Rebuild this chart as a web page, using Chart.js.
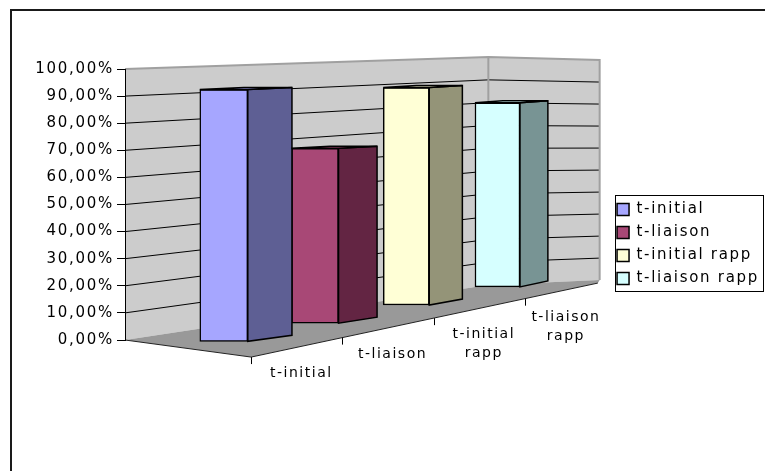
<!DOCTYPE html>
<html>
<head>
<meta charset="utf-8">
<script src="https://cdn.jsdelivr.net/npm/chart.js@4"></script>
<style>
html,body{margin:0;padding:0;background:#fff;}
#wrap{width:765px;height:471px;}
</style>
</head>
<body>
<div id="wrap"><canvas id="c" width="765" height="471"></canvas></div>
<script>
// ---- data ----
const categories = ['t-initial', 't-liaison', 't-initial rapp', 't-liaison rapp'];
const values = [95, 69, 90, 80];          // percent
const tickValues = [0, 10, 20, 30, 40, 50, 60, 70, 80, 90, 100];
const tickLabels = ['0,00%', '10,00%', '20,00%', '30,00%', '40,00%', '50,00%', '60,00%', '70,00%', '80,00%', '90,00%', '100,00%'];
const frontColors = ['#A6A6FF', '#A84876', '#FFFFD6', '#D6FFFF'];
const sideColors = ['#5E5F94', '#632543', '#949478', '#789494'];

// ---- 3D look (geometry of the fake perspective) ----
const FONT = "'DejaVu Sans', Verdana, sans-serif";
const geo = {
  backX: 2.9, rightX: 4.12,
  floorFrontX: 0.3, floorFrontY: -6.3,
  floorEndX: 4.1, floorEndY: 21.0,
  tickOffset: 0.3
};
// depth plane of series i, in units of the front value axis
const depth = i => ({ base: -0.5 + 6.7 * i, k: 0.978 - 0.043 * i });
const rangeFor = (base, k) => ({ min: -base / k, max: (100 - base) / k });

const hiddenAxis = r => Object.assign({ type: 'linear', display: false, bounds: 'data', position: 'left' }, r);

const scales = {
  x: {
    type: 'linear', position: 'top', min: -1.083, max: 4.223, offset: false,
    ticks: { display: false }, grid: { display: false, offset: false }, border: { display: false },
    afterFit(s) { s.height = 52; }
  },
  xb: {
    type: 'linear', position: 'bottom', min: 0, max: 1, offset: false,
    ticks: { display: false }, grid: { display: false }, border: { display: false },
    afterFit(s) { s.height = 131; }
  },
  y: {
    type: 'linear', position: 'left', min: 0, max: 100,
    afterBuildTicks(s) { s.ticks = tickValues.map(v => ({ value: v })); },
    ticks: {
      callback: v => tickLabels[tickValues.indexOf(v)],
      font: { family: FONT, size: 15 }, color: '#000', padding: 3
    },
    grid: { drawOnChartArea: false, drawTicks: true, tickLength: 8, color: '#000' },
    border: { display: true, color: '#000', width: 1 },
    afterFit(s) { s.width = 125; }
  },
  yBack: hiddenAxis(rangeFor(20.3, 0.841)),
  yRight: hiddenAxis(rangeFor(22.1, 0.812))
};
categories.forEach((c, i) => {
  const d = depth(i);
  scales['y' + i] = hiddenAxis(rangeFor(d.base, d.k));
});

const datasets = categories.map((name, i) => ({
  label: name,
  data: [{ x: i, y: values[i] }],
  xAxisID: 'x',
  yAxisID: 'y' + i,
  backgroundColor: frontColors[i],
  borderColor: '#000',
  borderWidth: 1.5,
  borderSkipped: false,
  barThickness: 48 - i,
  grouped: false,
  clip: false
}));

function poly(ctx, pts, fill, stroke, lw) {
  ctx.beginPath();
  ctx.moveTo(pts[0][0], pts[0][1]);
  for (let i = 1; i < pts.length; i++) ctx.lineTo(pts[i][0], pts[i][1]);
  ctx.closePath();
  if (fill) { ctx.fillStyle = fill; ctx.fill(); }
  if (stroke) { ctx.strokeStyle = stroke; ctx.lineWidth = lw; ctx.lineJoin = 'miter'; ctx.stroke(); }
}

const edgeM = xu => geo.floorFrontY + (xu - geo.floorFrontX) * (geo.floorEndY - geo.floorFrontY) / (geo.floorEndX - geo.floorFrontX);

const frame3d = {
  id: 'frame3d',
  beforeLayout(chart) { chart.ctx.letterSpacing = '1.7px'; },
  beforeDraw(chart) {
    const { ctx, chartArea: ca, scales: s } = chart;
    ctx.letterSpacing = '1.7px';
    ctx.save();
    ctx.fillStyle = '#fff';
    ctx.fillRect(0, 0, chart.width, chart.height);
    // outer frame
    ctx.strokeStyle = '#1a1a1a'; ctx.lineWidth = 2;
    ctx.beginPath();
    ctx.moveTo(11, chart.height + 2); ctx.lineTo(11, 10); ctx.lineTo(chart.width + 2, 10);
    ctx.stroke();

    const xF = ca.left, xB = s.x.getPixelForValue(geo.backX), xR = s.x.getPixelForValue(geo.rightX);
    const yF = v => s.y.getPixelForValue(v), yB = v => s.yBack.getPixelForValue(v), yR = v => s.yRight.getPixelForValue(v);
    // walls
    poly(ctx, [[xF, yF(0)], [xF, yF(100)], [xB, yB(100)], [xR, yR(100)], [xR, yR(0)], [xB, yB(0)]], '#CCCCCC');
    // gridlines
    ctx.strokeStyle = '#000'; ctx.lineWidth = 1;
    tickValues.forEach(v => {
      if (v === 0 || v === 100) return;
      ctx.beginPath();
      ctx.moveTo(xF, yF(v)); ctx.lineTo(xB, yB(v)); ctx.lineTo(xR, yR(v));
      ctx.stroke();
    });
    // wall outlines
    ctx.strokeStyle = '#A0A0A0'; ctx.lineWidth = 2;
    ctx.beginPath();
    ctx.moveTo(xF, yF(100)); ctx.lineTo(xB, yB(100)); ctx.lineTo(xR, yR(100)); ctx.lineTo(xR, yR(0));
    ctx.moveTo(xB, yB(100)); ctx.lineTo(xB, yB(0));
    ctx.stroke();
    // floor
    const xf0 = s.x.getPixelForValue(geo.floorFrontX), xfe = s.x.getPixelForValue(geo.floorEndX);
    poly(ctx, [[xF, yF(0)], [xf0, yF(geo.floorFrontY)], [xfe, yF(geo.floorEndY)], [xR, yR(0)], [xB, yB(0)]], '#999999');
    ctx.strokeStyle = '#222'; ctx.lineWidth = 1;
    ctx.beginPath();
    ctx.moveTo(xF, yF(0)); ctx.lineTo(xf0, yF(geo.floorFrontY)); ctx.lineTo(xfe, yF(geo.floorEndY));
    ctx.stroke();
    // depth-axis ticks
    ctx.strokeStyle = '#000';
    categories.forEach((c, k) => {
      const xu = k + geo.tickOffset;
      const tx = Math.round(s.x.getPixelForValue(xu)) + 0.5, ty = yF(edgeM(xu));
      ctx.beginPath(); ctx.moveTo(tx, ty); ctx.lineTo(tx, ty + 7); ctx.stroke();
    });
    ctx.restore();
  },
  afterDatasetsDraw(chart) {
    const ctx = chart.ctx;
    ctx.save();
    chart.data.datasets.forEach((ds, i) => {
      const el = chart.getDatasetMeta(i).data[0];
      if (!el) return;
      const w = el.width, xl = el.x - w / 2, xr = el.x + w / 2, yt = el.y, yb = el.base;
      const dw = w * (0.92 - 0.1 * i);
      poly(ctx, [[xr, yt], [xr + dw, yt - 2], [xr + dw, yb - 6], [xr, yb]], sideColors[i], '#000', 1.5);
      poly(ctx, [[xl, yt], [xr, yt], [xr + dw, yt - 2], [xl + dw, yt - 2]], frontColors[i], '#000', 1.5);
    });
    ctx.restore();
  },
  afterDraw(chart) {
    const { ctx, scales: s } = chart;
    ctx.save();
    // category labels along the depth axis
    ctx.letterSpacing = '1.5px';
    ctx.font = '14px ' + FONT;
    ctx.fillStyle = '#000';
    ctx.textAlign = 'center';
    ctx.textBaseline = 'middle';
    categories.forEach((c, k) => {
      const a = k + geo.tickOffset;
      const b = k < categories.length - 1 ? a + 1 : geo.floorEndX;
      const xu = (a + b) / 2 + 0.05;
      const px = s.x.getPixelForValue(xu);
      const py = s.y.getPixelForValue(edgeM(xu)) + 27;
      const lines = ctx.measureText(c).width > 85 && c.includes(' ') ? [c.slice(0, c.lastIndexOf(' ')), c.slice(c.lastIndexOf(' ') + 1)] : [c];
      lines.forEach((ln, j) => ctx.fillText(ln, px, py + j * 19));
    });
    // legend frame
    const hb = chart.legend && chart.legend.legendHitBoxes;
    if (hb && hb.length) {
      const last = hb[hb.length - 1];
      const left = Math.round(hb[0].left - 2) + 0.5;
      const top = Math.round(hb[0].top - 7) + 0.5;
      const bottom = Math.round(last.top + last.height + 5) + 0.5;
      ctx.strokeStyle = '#000'; ctx.lineWidth = 1;
      ctx.strokeRect(left, top, chart.width - 1.5 - left, bottom - top);
    }
    ctx.restore();
  }
};

new Chart(document.getElementById('c'), {
  type: 'bar',
  data: { datasets },
  options: {
    responsive: false,
    devicePixelRatio: 1,
    animation: false,
    events: [],
    layout: { padding: { top: 17, bottom: 0, left: 0, right: -4 } },
    scales,
    plugins: {
      tooltip: { enabled: false },
      legend: {
        position: 'right',
        align: 'center',
        labels: {
          boxWidth: 12, boxHeight: 12, padding: 8,
          font: { family: FONT, size: 15 }, color: '#000'
        }
      }
    }
  },
  plugins: [frame3d]
});
</script>
</body>
</html>
